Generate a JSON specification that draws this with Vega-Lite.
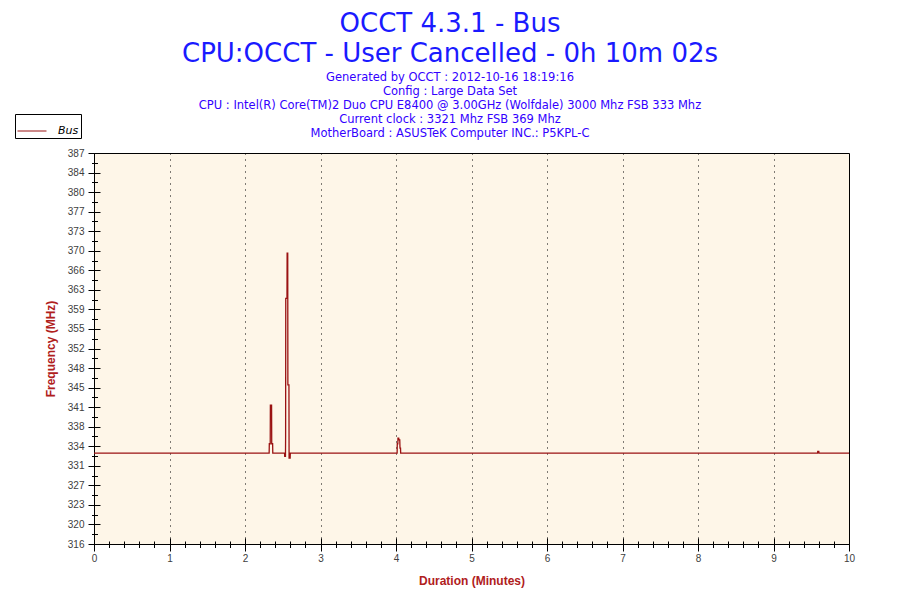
{
  "$schema": "https://vega.github.io/schema/vega-lite/v6.json",
  "autosize": "none",
  "width": 755,
  "height": 391,
  "padding": {"left": 94, "top": 153, "right": 51, "bottom": 56},
  "background": "white",
  "config": {
    "view": {"fill": "#fef6e8", "stroke": "black", "strokeWidth": 1},
    "axis": {"domainColor": "black", "tickColor": "black", "labelFont": "Liberation Sans", "labelFontSize": 10, "labelColor": "#404040", "titleFont": "Liberation Sans", "titleFontSize": 12, "titleFontWeight": "bold", "titleColor": "#b0201c", "labelOverlap": false, "labelFlush": false}
  },
  "title": {
    "text": ["OCCT 4.3.1 - Bus", "CPU:OCCT - User Cancelled - 0h 10m 02s"],
    "subtitle": ["Generated by OCCT : 2012-10-16 18:19:16", "Config : Large Data Set", "CPU : Intel(R) Core(TM)2 Duo CPU E8400 @ 3.00GHz (Wolfdale) 3000 Mhz FSB 333 Mhz", "Current clock : 3321 Mhz FSB 369 Mhz", "MotherBoard : ASUSTeK Computer INC.: P5KPL-C"],
    "font": "DejaVu Sans",
    "fontSize": 26,
    "fontWeight": "normal",
    "color": "#1a1aff",
    "lineHeight": 30,
    "subtitleFont": "DejaVu Sans",
    "subtitleFontSize": 11.5,
    "subtitleColor": "#3300ff",
    "subtitleLineHeight": 14,
    "subtitlePadding": 5,
    "anchor": "middle",
    "dx": -21.5,
    "offset": -26
  },
  "data": {"values": [
    {"t": 0, "f": 332.5, "s": "Bus"},
    {"t": 2.320, "f": 332.5, "s": "Bus"},
    {"t": 2.322, "f": 334.2, "s": "Bus"},
    {"t": 2.334, "f": 334.2, "s": "Bus"},
    {"t": 2.336, "f": 341.2, "s": "Bus"},
    {"t": 2.352, "f": 341.2, "s": "Bus"},
    {"t": 2.354, "f": 334.2, "s": "Bus"},
    {"t": 2.366, "f": 334.2, "s": "Bus"},
    {"t": 2.368, "f": 332.5, "s": "Bus"},
    {"t": 2.524, "f": 332.5, "s": "Bus"},
    {"t": 2.526, "f": 331.9, "s": "Bus"},
    {"t": 2.536, "f": 331.9, "s": "Bus"},
    {"t": 2.538, "f": 335.6, "s": "Bus"},
    {"t": 2.540, "f": 360.6, "s": "Bus"},
    {"t": 2.556, "f": 360.6, "s": "Bus"},
    {"t": 2.558, "f": 368.8, "s": "Bus"},
    {"t": 2.566, "f": 368.8, "s": "Bus"},
    {"t": 2.568, "f": 344.9, "s": "Bus"},
    {"t": 2.582, "f": 344.9, "s": "Bus"},
    {"t": 2.584, "f": 331.6, "s": "Bus"},
    {"t": 2.598, "f": 331.6, "s": "Bus"},
    {"t": 2.600, "f": 332.5, "s": "Bus"},
    {"t": 4.015, "f": 332.5, "s": "Bus"},
    {"t": 4.017, "f": 334.2, "s": "Bus"},
    {"t": 4.024, "f": 334.2, "s": "Bus"},
    {"t": 4.026, "f": 335.2, "s": "Bus"},
    {"t": 4.036, "f": 335.2, "s": "Bus"},
    {"t": 4.040, "f": 334.9, "s": "Bus"},
    {"t": 4.050, "f": 334.9, "s": "Bus"},
    {"t": 4.053, "f": 333.4, "s": "Bus"},
    {"t": 4.060, "f": 333.4, "s": "Bus"},
    {"t": 4.062, "f": 332.5, "s": "Bus"},
    {"t": 9.584, "f": 332.5, "s": "Bus"},
    {"t": 9.586, "f": 332.8, "s": "Bus"},
    {"t": 9.600, "f": 332.8, "s": "Bus"},
    {"t": 9.602, "f": 332.5, "s": "Bus"},
    {"t": 10.03, "f": 332.5, "s": "Bus"}
  ]},
  "resolve": {"axis": {"x": "independent", "y": "independent"}},
  "layer": [
    {
      "mark": {"type": "line", "clip": true, "strokeWidth": 1.3},
      "encoding": {
        "x": {"field": "t", "type": "quantitative", "scale": {"domain": [0, 10], "nice": false, "zero": false},
          "axis": {"orient": "bottom", "title": "Duration (Minutes)", "titleX": 377.5, "titleY": 36, "titleBaseline": "middle", "titleAnchor": "middle",
            "values": [0,0.2,0.4,0.6,0.8,1,1.2,1.4,1.6,1.8,2,2.2,2.4,2.6,2.8,3,3.2,3.4,3.6,3.8,4,4.2,4.4,4.6,4.8,5,5.2,5.4,5.6,5.8,6,6.2,6.4,6.6,6.8,7,7.2,7.4,7.6,7.8,8,8.2,8.4,8.6,8.8,9,9.2,9.4,9.6,9.8,10],
            "tickSize": {"condition": {"test": "abs(datum.value - round(datum.value)) < 0.001", "value": 7}, "value": 3.5},
            "labelExpr": "abs(datum.value - round(datum.value)) < 0.001 ? format(datum.value, 'd') : ''",
            "labelPadding": 2, "grid": false}},
        "y": {"field": "f", "type": "quantitative", "scale": {"domain": [316, 387], "nice": false, "zero": false},
          "axis": {"orient": "left", "title": "Frequency (MHz)", "titleX": -44, "titleY": 195.5, "titleAngle": -90, "titleBaseline": "middle", "titleAnchor": "middle",
            "values": [316,317.775,319.55,321.325,323.1,324.875,326.65,328.425,330.2,331.975,333.75,335.525,337.3,339.075,340.85,342.625,344.4,346.175,347.95,349.725,351.5,353.275,355.05,356.825,358.6,360.375,362.15,363.925,365.7,367.475,369.25,371.025,372.8,374.575,376.35,378.125,379.9,381.675,383.45,385.225,387],
            "tickSize": {"condition": {"test": "abs((datum.value-316)/3.55 - round((datum.value-316)/3.55)) < 0.01", "value": 6}, "value": 2.5},
            "labelExpr": "abs((datum.value-316)/3.55 - round((datum.value-316)/3.55)) < 0.01 ? ['316','320','323','327','331','334','338','341','345','348','352','355','359','363','366','370','373','377','380','384','387'][round((datum.value-316)/3.55)] : ''",
            "labelPadding": 4, "grid": false}},
        "color": {"field": "s", "type": "nominal", "scale": {"range": ["#9a1212"]},
          "legend": {"title": null, "orient": "none", "legendX": -79, "legendY": -39, "strokeColor": "black", "fillColor": "white", "padding": 2, "symbolType": "stroke", "symbolSize": 840, "symbolStrokeWidth": 1, "labelFont": "DejaVu Sans", "labelFontStyle": "italic", "labelFontSize": 11, "labelColor": "black", "labelOffset": 11}}
      }
    },
    {
      "mark": {"type": "line", "clip": true, "strokeOpacity": 0},
      "encoding": {
        "x": {"field": "t", "type": "quantitative",
          "axis": {"orient": "bottom", "title": null, "labels": false, "domain": false,
            "values": [0,0.2,0.4,0.6,0.8,1,1.2,1.4,1.6,1.8,2,2.2,2.4,2.6,2.8,3,3.2,3.4,3.6,3.8,4,4.2,4.4,4.6,4.8,5,5.2,5.4,5.6,5.8,6,6.2,6.4,6.6,6.8,7,7.2,7.4,7.6,7.8,8,8.2,8.4,8.6,8.8,9,9.2,9.4,9.6,9.8,10],
            "tickSize": {"condition": {"test": "abs(datum.value - round(datum.value)) < 0.001", "value": -6}, "value": -3},
            "grid": true, "gridColor": "black", "gridDash": [1, 5], "gridWidth": 1,
            "gridOpacity": {"condition": {"test": "abs(datum.value - round(datum.value)) < 0.001 && datum.value > 0.5 && datum.value < 9.5", "value": 1}, "value": 0}}},
        "y": {"field": "f", "type": "quantitative",
          "axis": {"orient": "left", "title": null, "labels": false, "domain": false, "grid": false,
            "values": [316,317.775,319.55,321.325,323.1,324.875,326.65,328.425,330.2,331.975,333.75,335.525,337.3,339.075,340.85,342.625,344.4,346.175,347.95,349.725,351.5,353.275,355.05,356.825,358.6,360.375,362.15,363.925,365.7,367.475,369.25,371.025,372.8,374.575,376.35,378.125,379.9,381.675,383.45,385.225,387],
            "tickSize": {"condition": {"test": "abs((datum.value-316)/3.55 - round((datum.value-316)/3.55)) < 0.01", "value": -6}, "value": -3.5}}}
      }
    }
  ]
}
